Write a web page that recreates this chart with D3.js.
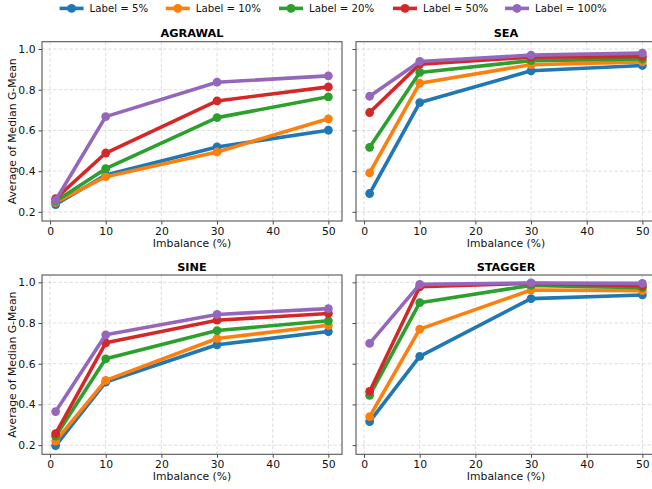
<!DOCTYPE html>
<html><head><meta charset="utf-8">
<script src="https://cdn.jsdelivr.net/npm/d3@7"></script>
<style>body{margin:0;background:#fff}svg{display:block;font-family:"DejaVu Sans",sans-serif}</style>
</head><body><svg id="chart" width="652" height="489"></svg>
<script>
// ---- data ----
const imbalance = [1, 10, 30, 50];
const seriesLabels = ["Label = 5%", "Label = 10%", "Label = 20%", "Label = 50%", "Label = 100%"];
const seriesColors = ["#1f77b4", "#ff7f0e", "#2ca02c", "#d62728", "#9467bd"];
const panelTitles = ["AGRAWAL", "SEA", "SINE", "STAGGER"];
// rows: Label = 5%, 10%, 20%, 50%, 100%; columns: imbalance 1, 10, 30, 50
const agrawalValues = [
  [0.236, 0.381, 0.519, 0.601],
  [0.246, 0.373, 0.494, 0.657],
  [0.252, 0.412, 0.663, 0.765],
  [0.265, 0.489, 0.745, 0.814],
  [0.257, 0.668, 0.837, 0.868]
];
const seaValues = [
  [0.290, 0.737, 0.893, 0.919],
  [0.391, 0.832, 0.923, 0.937],
  [0.517, 0.885, 0.943, 0.951],
  [0.688, 0.926, 0.960, 0.964],
  [0.768, 0.939, 0.970, 0.980]
];
const sineValues = [
  [0.198, 0.510, 0.693, 0.758],
  [0.220, 0.518, 0.724, 0.789],
  [0.244, 0.624, 0.763, 0.811],
  [0.257, 0.703, 0.814, 0.847],
  [0.365, 0.742, 0.842, 0.871]
];
const staggerValues = [
  [0.316, 0.636, 0.920, 0.938],
  [0.340, 0.770, 0.962, 0.959],
  [0.445, 0.900, 0.985, 0.974],
  [0.464, 0.978, 0.995, 0.983],
  [0.700, 0.990, 0.997, 0.995]
];
const xTicks = [0, 10, 20, 30, 40, 50];
const yTicks = [0.2, 0.4, 0.6, 0.8, 1.0];
const xLabel = "Imbalance (%)";
const yLabel = "Average of Median G-Mean";

// ---- layout ----
const svg = d3.select("#chart");
svg.append("rect").attr("width", 652).attr("height", 489).attr("fill", "#fff");
const panelW = 300, panelH = 179.3;
const colLeft = [42, 356];
const rowTop = [41.7, 275];
const panelData = [agrawalValues, seaValues, sineValues, staggerValues];

const x = d3.scaleLinear().domain([-1.45, 52.45]).range([0, panelW]);
const y = d3.scaleLinear().domain([0.155, 1.036]).range([panelH, 0]);

panelTitles.forEach((title, i) => {
  const col = i % 2, row = Math.floor(i / 2);
  const g = svg.append("g").attr("transform", `translate(${colLeft[col]},${rowTop[row]})`);

  // grid
  const grid = g.append("g").attr("stroke", "#b0b0b0").attr("stroke-opacity", 0.55)
    .attr("stroke-width", 0.8).attr("stroke-dasharray", "3.5,2");
  xTicks.forEach(t => grid.append("line").attr("x1", x(t)).attr("x2", x(t)).attr("y1", 0).attr("y2", panelH));
  yTicks.forEach(t => grid.append("line").attr("x1", 0).attr("x2", panelW).attr("y1", y(t)).attr("y2", y(t)));

  // series
  const line = d3.line().x((d, k) => x(imbalance[k])).y(d => y(d));
  panelData[i].forEach((vals, s) => {
    g.append("path").datum(vals).attr("d", line).attr("fill", "none")
      .attr("stroke", seriesColors[s]).attr("stroke-width", 3.6)
      .attr("stroke-linejoin", "round").attr("stroke-linecap", "round");
    g.selectAll(null).data(vals).enter().append("circle")
      .attr("cx", (d, k) => x(imbalance[k])).attr("cy", d => y(d)).attr("r", 4.4)
      .attr("fill", seriesColors[s]);
  });

  // axes
  const xAxis = d3.axisBottom(x).tickValues(xTicks).tickSize(3.5).tickPadding(3).tickFormat(d3.format("d"));
  const xg = g.append("g").attr("transform", `translate(0,${panelH})`).call(xAxis);
  const yAxis = d3.axisLeft(y).tickValues(yTicks).tickSize(3.5).tickPadding(3)
    .tickFormat(col === 0 ? d3.format(".1f") : () => "");
  const yg = g.append("g").call(yAxis);
  [xg, yg].forEach(a => {
    a.select(".domain").remove();
    a.selectAll(".tick line").attr("stroke", "#333").attr("stroke-width", 0.9);
    a.selectAll(".tick text").attr("fill", "#111").style("font-size", "10.8px")
      .style("font-family", "'DejaVu Sans', sans-serif");
  });

  // frame
  g.append("rect").attr("x", 0).attr("y", 0).attr("width", panelW).attr("height", panelH)
    .attr("fill", "none").attr("stroke", "#555").attr("stroke-width", 1.1);

  // title
  g.append("text").attr("x", panelW / 2).attr("y", -4.5).attr("text-anchor", "middle")
    .style("font-size", "11.3px").style("font-weight", "bold").attr("fill", "#000").text(title);

  // x label
  g.append("text").attr("x", panelW / 2).attr("y", panelH + 26).attr("text-anchor", "middle")
    .style("font-size", "10.8px").attr("fill", "#111").text(xLabel);

  // y label
  if (col === 0) {
    g.append("text").attr("transform", `translate(${-26},${panelH / 2}) rotate(-90)`)
      .attr("text-anchor", "middle").style("font-size", "10.8px").attr("fill", "#111").text(yLabel);
  }
});

// legend
const legendX = [59.6, 165.8, 279, 393, 505];
const legendY = 8.4;
const lg = svg.append("g");
seriesLabels.forEach((lab, s) => {
  const gx = legendX[s];
  lg.append("line").attr("x1", gx).attr("x2", gx + 24).attr("y1", legendY).attr("y2", legendY)
    .attr("stroke", seriesColors[s]).attr("stroke-width", 3.6);
  lg.append("circle").attr("cx", gx + 12).attr("cy", legendY).attr("r", 4.4).attr("fill", seriesColors[s]);
  lg.append("text").attr("x", gx + 30).attr("y", legendY + 3.7).style("font-size", "10.2px")
    .attr("fill", "#111").text(lab);
});
</script>
</body></html>
